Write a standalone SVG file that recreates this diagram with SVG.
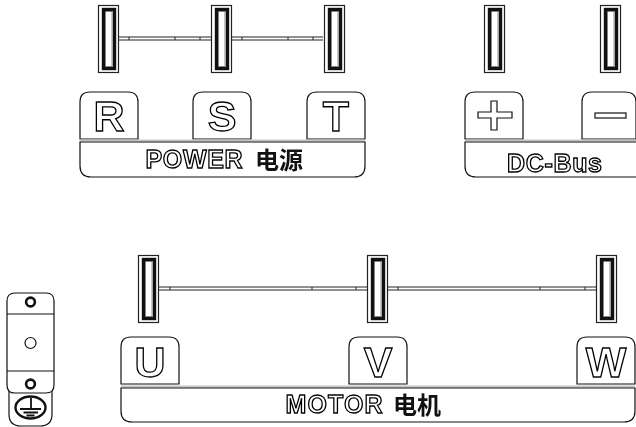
<svg xmlns="http://www.w3.org/2000/svg" width="636" height="427" viewBox="0 0 636 427">
<style>
.l{fill:#fff;stroke:#111;stroke-width:1.2}
.n{fill:none;stroke:#111;stroke-width:1.2}
.o{fill:#fff;stroke:#000;stroke-width:1.300;font-family:"Liberation Sans",Arial,sans-serif;font-weight:700;text-anchor:middle;filter:url(#gray)}
.k{font-size:43px}
.b{font-size:25px}
.c{fill:#111;font-family:"Liberation Sans","Noto Sans CJK SC",sans-serif;font-weight:700;font-size:24px;text-anchor:start;filter:url(#gray)}
.bus{fill:none;stroke:#222;stroke-width:1}
.g{stroke:#c4c4c4;stroke-width:2;fill:none}
</style>
<defs>
<filter id="gray" x="-20%" y="-20%" width="140%" height="140%"><feOffset dx="0" dy="0"/></filter>
<g id="term">
<rect x=".5" y=".5" width="20" height="67" fill="#fff" stroke="#222" stroke-width="1.200"/>
<rect x="5.500" y="4.500" width="11" height="59" fill="#fff" stroke="#111" stroke-width="3.400"/>
<rect x="7.500" y="6.500" width="6.500" height="55" fill="#fff" stroke="#444" stroke-width=".6"/>
</g>
<path id="key" d="M0 47V10Q0 0 10 0H48Q58 0 58 10V47Z" class="l"/>
</defs>
<g id="connectors" class="bus">
<path d="M119 37H211M119 40H211M232 37H323M232 40H323"/>
<path d="M129 37v3M175 37v3M200 37v3M242 37v3M288 37v3M313 37v3"/>
<path d="M159 287H367M159 290H367M388 287H596M388 290H596"/>
<path d="M170 287v3M312 287v3M356 287v3M398 287v3M540 287v3M585 287v3"/>
</g>
<g id="power">
<g id="term-r"><use href="#term" x="98" y="5"/></g>
<g id="term-s"><use href="#term" x="211" y="5"/></g>
<g id="term-t"><use href="#term" x="324" y="5"/></g>
<g id="key-r"><use href="#key" x="80" y="92"/><text class="o k" x="109" y="130.500">R</text></g>
<g id="key-s"><use href="#key" x="193" y="92"/><text class="o k" x="222" y="130.500">S</text></g>
<g id="key-t"><use href="#key" x="307" y="92"/><text class="o k" x="336" y="130.500">T</text></g>
<g id="bar-power"><path class="g" d="M80 140.500H365"/><path d="M80 142H365V166Q365 177 354 177H91Q80 177 80 166Z" class="l"/>
<text class="o b" x="194" y="168" textLength="97" lengthAdjust="spacing">POWER</text>
<text class="c" x="255" y="169">电源</text></g>
</g>
<g id="dcbus">
<g id="term-plus"><use href="#term" x="484" y="5"/></g>
<g id="term-minus"><use href="#term" x="600" y="5"/></g>
<g id="key-plus"><use href="#key" x="465" y="92"/><path class="l" d="M491 101H497V112H512V118H497V130H491V118H478V112H491Z"/></g>
<g id="key-minus"><path d="M582 139V102Q582 92 592 92H625Q636 92 636 102V139Z" class="l"/><rect class="l" x="595" y="113" width="31" height="5"/></g>
<g id="bar-dc"><path class="g" d="M465 140.500H636"/><path d="M636 142H465V166Q465 177 476 177H636" class="l"/>
<text class="o b" x="554.500" y="171.500" textLength="95" lengthAdjust="spacing">DC-Bus</text></g>
</g>
<g id="motor">
<g id="term-u"><use href="#term" x="138" y="255"/></g>
<g id="term-v"><use href="#term" x="367" y="255"/></g>
<g id="term-w"><use href="#term" x="596" y="255"/></g>
<g id="key-u"><use href="#key" x="121" y="337"/><text class="o k" x="150" y="376.500">U</text></g>
<g id="key-v"><use href="#key" x="349" y="337"/><text class="o k" x="378" y="376.500">V</text></g>
<g id="key-w"><use href="#key" x="577" y="337"/><text class="o k" x="606" y="376.500">W</text></g>
<g id="bar-motor"><path class="g" d="M121 386.500H635"/><path d="M121 388H635V411Q635 422 624 422H132Q121 422 121 411Z" class="l"/>
<text class="o b" x="334" y="413" textLength="97" lengthAdjust="spacing">MOTOR</text>
<text class="c" x="393" y="414">电机</text></g>
</g>
<g id="ground">
<path class="l" d="M9 390V414Q9 426 21 426H40Q52 426 52 414V390Z"/>
<path class="l" d="M7 301Q7 293 15 293H46Q54 293 54 301V385Q54 393 46 393H15Q7 393 7 385Z"/>
<path class="n" d="M7 314H54M7 371H54"/>
<circle cx="30.500" cy="302" r="4.400" fill="#fff" stroke="#111" stroke-width="2.600"/>
<circle cx="30.500" cy="343" r="5.500" class="l"/>
<circle cx="30.500" cy="384" r="4.400" fill="#fff" stroke="#111" stroke-width="2.600"/>
<ellipse cx="30.500" cy="407.500" rx="15" ry="11" fill="#fff" stroke="#111" stroke-width="2.400"/>
<path fill="none" stroke="#111" stroke-width="1.800" d="M31 398V409M20 409H41M23.500 412.500H38M26.500 415.500H34.500"/>
</g>
</svg>
